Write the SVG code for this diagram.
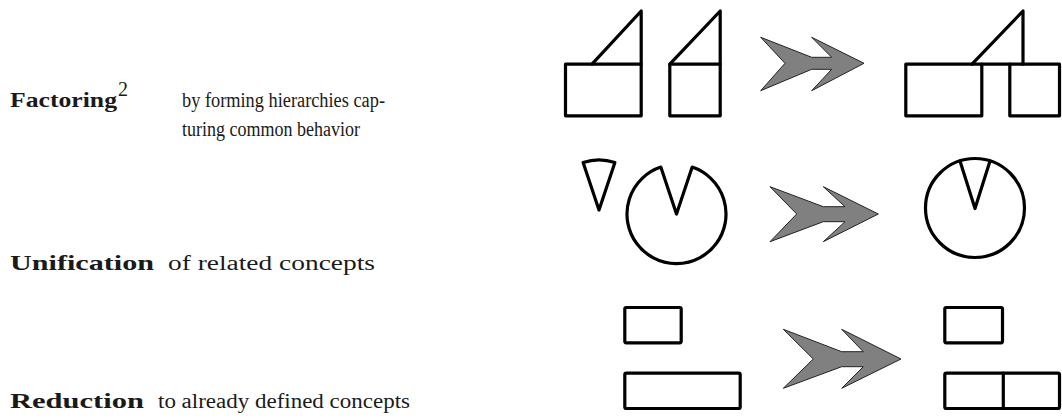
<svg xmlns="http://www.w3.org/2000/svg" width="1062" height="420" viewBox="0 0 1062 420">
<style>
.sh{fill:none;stroke:#000;stroke-width:3.2;stroke-linejoin:round;stroke-linecap:round}
.ar{fill:#808080;stroke:#222;stroke-width:1;stroke-linejoin:miter}
.t{font-family:"Liberation Serif","DejaVu Serif",serif;font-size:20px;fill:#1a1a1a}
.b{font-weight:bold;font-size:21px}
</style>
<rect width="1062" height="420" fill="#fff"/>
<g id="labels">
<text class="t b" x="10" y="107" textLength="107" lengthAdjust="spacingAndGlyphs">Factoring</text>
<text class="t" x="118" y="96" font-size="14">2</text>
<text class="t" x="182" y="107" textLength="203" lengthAdjust="spacingAndGlyphs">by forming hierarchies cap-</text>
<text class="t" x="182" y="136" textLength="178" lengthAdjust="spacingAndGlyphs">turing common behavior</text>
<text class="t b" x="10" y="270" textLength="144" lengthAdjust="spacingAndGlyphs">Unification</text>
<text class="t" x="168" y="270" textLength="207" lengthAdjust="spacingAndGlyphs">of related concepts</text>
<text class="t b" x="10" y="408" textLength="134" lengthAdjust="spacingAndGlyphs">Reduction</text>
<text class="t" x="158" y="408" textLength="252" lengthAdjust="spacingAndGlyphs">to already defined concepts</text>
</g>
<g id="factoring-before">
<rect class="sh" x="565.5" y="64.2" width="75.7" height="51.6"/>
<polyline class="sh" points="592,64.2 641.2,11 641.2,64.2"/>
<rect class="sh" x="669.8" y="64.2" width="50.4" height="51.6"/>
<polyline class="sh" points="669.8,64.2 720.2,11 720.2,64.2"/>
</g>
<g id="factoring-after">
<rect class="sh" x="905.8" y="64.2" width="76" height="51.6"/>
<rect class="sh" x="1009.8" y="64.2" width="49.7" height="51.6"/>
<polyline class="sh" points="972,64.2 1023,11 1023,64.2"/>
<line class="sh" x1="981.8" y1="64.2" x2="1009.8" y2="64.2" stroke-width="2"/>
</g>
<g id="unification-before">
<path class="sh" d="M599 210 L583.1 162.6 A50 50 0 0 1 614.9 162.6 Z"/>
<path class="sh" d="M676.5 214 L692.2 167.1 A49.5 49.5 0 1 1 660.8 167.1 Z"/>
</g>
<g id="unification-after">
<circle class="sh" cx="975" cy="208" r="49.5"/>
<polyline class="sh" points="960,161 975,208.5 990,161"/>
</g>
<g id="reduction-before">
<rect class="sh" x="624.8" y="307.5" width="56.4" height="35.3" rx="1.5"/>
<rect class="sh" x="624.8" y="373.2" width="115.4" height="35.3" rx="1.5"/>
</g>
<g id="reduction-after">
<rect class="sh" x="944.8" y="307.5" width="57.7" height="35.3" rx="1.5"/>
<rect class="sh" x="944.8" y="373.2" width="114.7" height="35.3" rx="1.5"/>
<line class="sh" x1="1003.3" y1="373.2" x2="1003.3" y2="408.5" stroke-width="2.4"/>
</g>
<g id="arrows">
<path class="ar" d="M864 63.3 L811.7 37.3 L831.7 57.3 L811.7 57.3 L760.7 37.3 L785 63.3 L760.7 90.7 L811.7 69.3 L831.7 69.3 L811.7 90.7 Z"/>
<path class="ar" d="M878.3 214 L823.3 186.7 L845 206.7 L823.3 206.7 L770 186.7 L796.7 214 L770 241.7 L823.3 221.7 L845 221.7 L823.3 241.7 Z"/>
<path class="ar" d="M901 359 L841.7 329.3 L863.3 351.7 L841.7 351.7 L783.3 329.3 L813.3 359 L783.3 388.3 L841.7 366.7 L863.3 366.7 L841.7 388.3 Z"/>
</g>
</svg>
